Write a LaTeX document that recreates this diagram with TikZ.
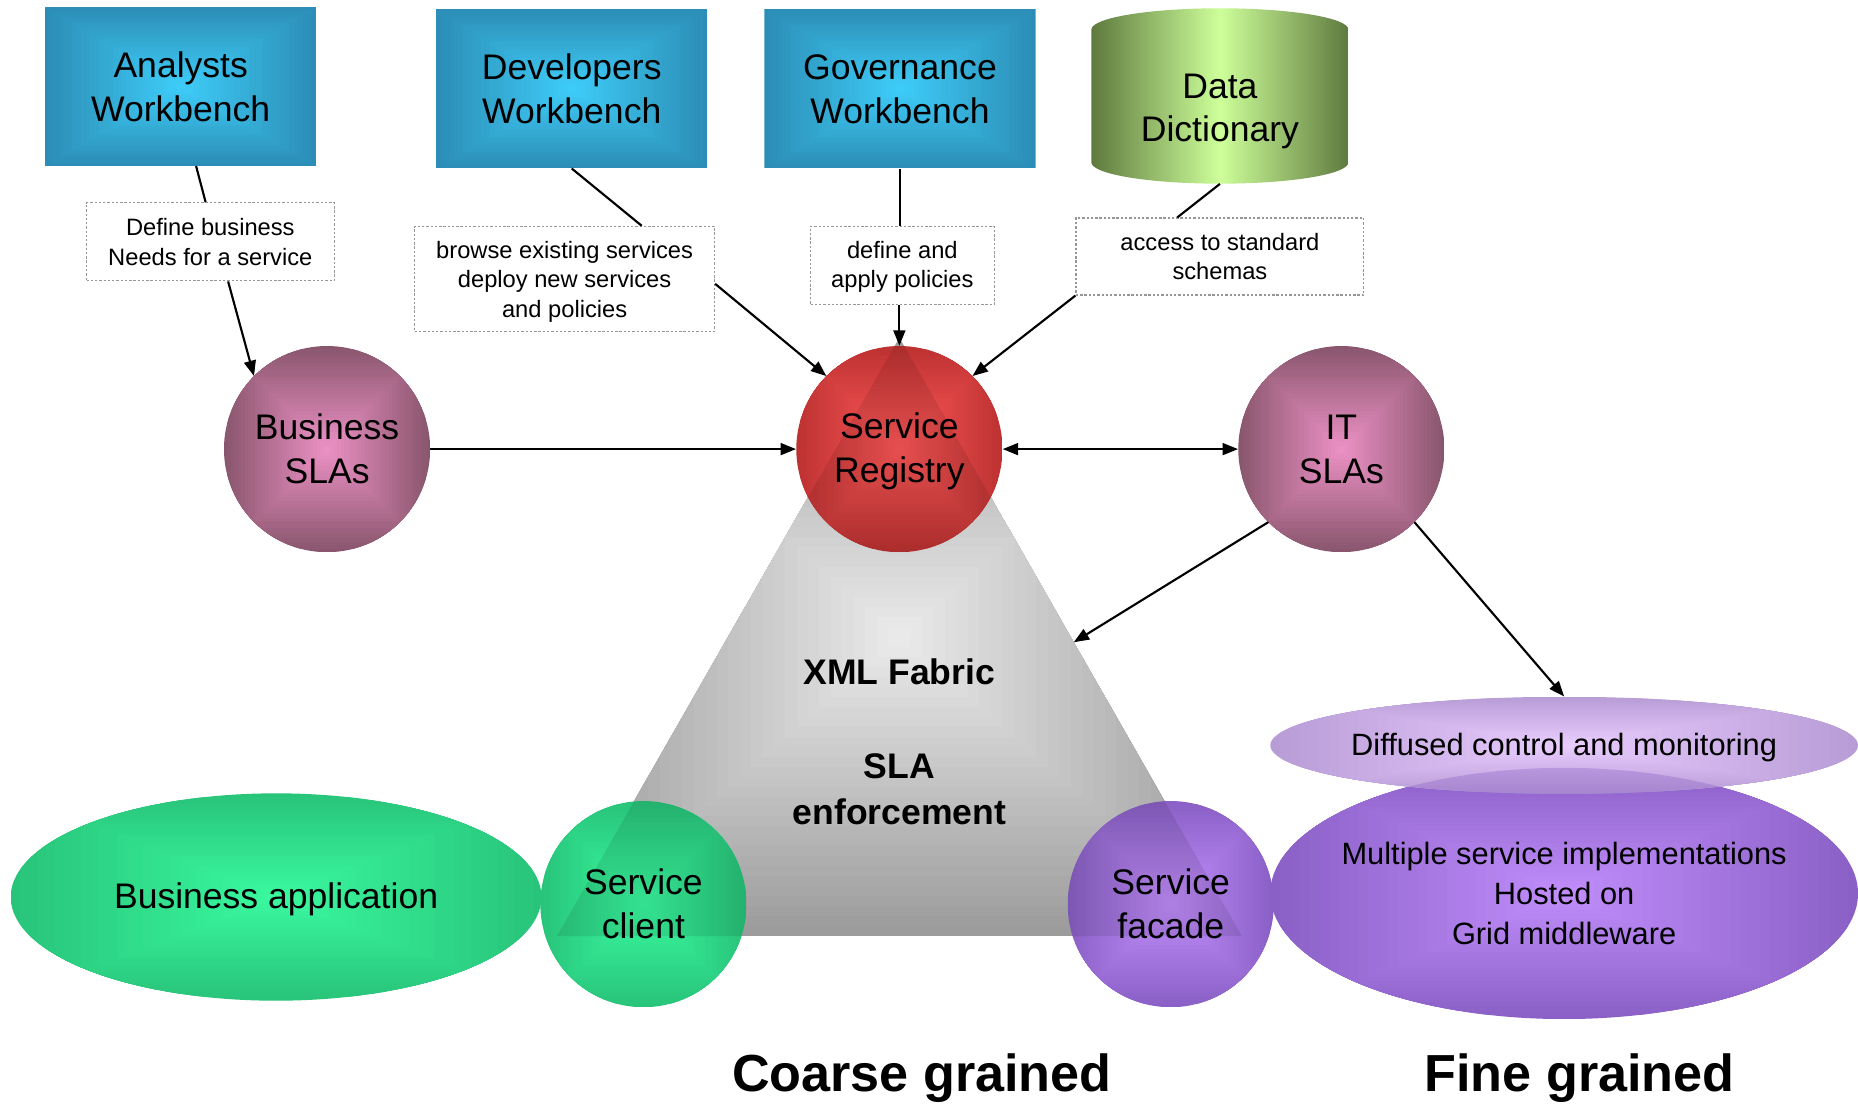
\documentclass[tikz,border=0pt]{standalone}
\usepackage{fontspec}
\setmainfont{Liberation Sans}
\usetikzlibrary{shapes.geometric,arrows.meta,calc}
\definecolor{wbout}{RGB}{44,142,182}
\definecolor{wbin}{RGB}{62,206,250}
\definecolor{slaout}{RGB}{138,86,110}
\definecolor{slain}{RGB}{238,146,198}
\definecolor{regout}{RGB}{190,50,50}
\definecolor{regin}{RGB}{255,88,88}
\definecolor{triout}{RGB}{156,156,156}
\definecolor{triin}{RGB}{236,236,236}
\definecolor{grout}{RGB}{40,196,122}
\definecolor{grin}{RGB}{58,250,160}
\definecolor{puout}{RGB}{138,96,198}
\definecolor{puin}{RGB}{194,142,252}
\definecolor{dfout}{RGB}{184,156,214}
\definecolor{dfin}{RGB}{234,206,255}
\definecolor{ddout}{RGB}{94,122,62}
\definecolor{ddin}{RGB}{206,255,154}
\definecolor{lblgray}{RGB}{150,150,150}
\newcommand{\lowerby}[2]{\raisebox{-#1}[\height][\depth]{#2}}
\tikzset{
  rg/.style n args={2}{path picture={
    \foreach \k in {0,...,29}{
      \pgfmathtruncatemacro\tt{\k*100/30}
      \fill[#2!\tt!#1] ($(path picture bounding box.south west)!\k/60!(path picture bounding box.north east)$) rectangle ($(path picture bounding box.north east)!\k/60!(path picture bounding box.south west)$);
    }}},
  wb/.style={rectangle, minimum width=229, minimum height=134, inner sep=0pt, align=center, font=\fontsize{30}{37}\selectfont, rg={wbout}{wbin}},
  circ/.style={circle, minimum size=174, inner sep=0pt, align=center, font=\fontsize{30}{37}\selectfont},
  ell/.style={ellipse, inner sep=0pt, align=center},
  lbl/.style={rectangle, draw=lblgray, line width=1pt, dash pattern=on 2pt off 1.6pt, fill=white, inner sep=0pt, align=center, font=\fontsize{20}{25}\selectfont},
  ln/.style={line width=1.8pt, black},
  arr/.style={line width=1.8pt, black, -{Triangle[length=13pt,width=10pt]}},
  dbl/.style={line width=1.8pt, black, {Triangle[length=13pt,width=10pt]}-{Triangle[length=13pt,width=10pt]}},
  bigtxt/.style={font=\fontsize{30}{39}\selectfont\bfseries, align=center},
  huge/.style={font=\fontsize{44}{50}\selectfont\bfseries}
}
\begin{document}
\begin{tikzpicture}[x=1pt,y=-1pt]
\useasboundingbox (0,0) rectangle (1568,932);
\fill[white] (0,0) rectangle (1568,932);

% triangle (XML fabric)
\coordinate (t1) at (759,285);
\coordinate (t2) at (1048,790);
\coordinate (t3) at (470,790);
\path[rg={triout}{triin}] (t1) -- (t2) -- (t3) -- cycle;
\coordinate (fabpt) at ($(t1)!0.509!(t2)$);
\node[bigtxt] (xml) at (759,567) {XML Fabric};
\node[bigtxt] (sla) at (759,666) {SLA\\enforcement};

% workbenches
\node[wb] (aw) at (152.5,73) {Analysts\\Workbench};
\node[wb] (dw) at (482.5,75) {Developers\\Workbench};
\node[wb] (gw) at (759.5,75) {Governance\\Workbench};

% data dictionary cylinder
\shade[left color=ddout, right color=ddout, middle color=ddin]
  (921,25) -- (921,137) arc[start angle=180, end angle=360, x radius=108.5pt, y radius=18pt]
  -- (1138,25) arc[start angle=0, end angle=180, x radius=108.5pt, y radius=18pt] -- cycle;
\node[rectangle, inner sep=0pt, minimum width=217, minimum height=122, align=center, font=\fontsize{30}{36}\selectfont] (dd) at (1029.5,94) {Data\\Dictionary};

% labels
\node[lbl, minimum width=209, minimum height=66] (l1) at (177.5,204) {Define business\\Needs for a service};
\node[lbl, minimum width=253, minimum height=89] (l2) at (476.5,235.5) {\lowerby{2.5pt}{\begin{tabular}{@{}c@{}}browse existing services\\deploy new services\\and policies\end{tabular}}};
\node[lbl, minimum width=155, minimum height=66] (l3) at (761.5,224) {\lowerby{1.5pt}{\begin{tabular}{@{}c@{}}define and\\apply policies\end{tabular}}};
\node[lbl, minimum width=243, minimum height=65] (l4) at (1029.5,216.5) {access to standard\\schemas};

% circles
\node[circ, rg={slaout}{slain}] (bs) at (276,379) {Business\\SLAs};
\node[circ, rg={regout}{regin}] (reg) at (759,379) {\lowerby{2.5pt}{\begin{tabular}{@{}c@{}}Service\\Registry\end{tabular}}};
\node[circ, rg={slaout}{slain}] (it) at (1132,379) {IT\\SLAs};

% bottom row
\node[ell, minimum width=448, minimum height=175, rg={grout}{grin}, font=\fontsize{30}{37}\selectfont] (ba) at (233,757) {\lowerby{2pt}{Business application}};
\node[circ, rg={grout}{grin}] (sc) at (543,763) {Service\\client};
\node[circ, rg={puout}{puin}] (sf) at (988,763) {Service\\facade};
\node[ell, minimum width=496, minimum height=212, rg={puout}{puin}, font=\fontsize{26}{33.5}\selectfont] (ms) at (1320,754) {\makebox[0pt]{\lowerby{2.5pt}{\begin{tabular}{@{}c@{}}Multiple service implementations\\Hosted on\\Grid middleware\end{tabular}}}};
\node[ell, minimum width=496, minimum height=82, rg={dfout}{dfin}, font=\fontsize{26}{32}\selectfont] (df) at (1320,629) {\makebox[0pt]{\lowerby{2pt}{Diffused control and monitoring}}};

% translucent overlaps
\foreach \c in {reg,sc,sf}{
  \begin{scope}
    \clip (\c.center) circle[radius=87pt];
    \fill[black, fill opacity=0.09] (t1) -- (t2) -- (t3) -- cycle;
  \end{scope}
}
\begin{scope}
  \clip (df.center) ellipse[x radius=248pt, y radius=41pt];
  \fill[puout, fill opacity=0.35] (ms.center) ellipse[x radius=248pt, y radius=106pt];
\end{scope}

% connectors
\draw[ln] ([xshift=13]aw.south) -- ([xshift=-4]l1.north);
\draw[arr] ([xshift=15]l1.south) -- (bs.135);
\draw[ln] (dw.south) -- ([xshift=65]l2.north);
\draw[arr] ([yshift=-4]l2.east) -- (reg.135);
\draw[ln] (gw.south) -- (gw.south |- l3.north);
\draw[arr] (reg.north |- l3.south) -- (reg.north);
\draw[ln] (dd.south) -- ([xshift=-36]l4.north);
\draw[arr] (l4.south west) -- (reg.45);
\draw[arr] (bs) -- (reg);
\draw[dbl] (reg) -- (it);
\draw[arr] (it.225) -- (fabpt);
\draw[arr] (it.-45) -- (df.north);

% captions
\node[huge] (coarse) at (778,910) {Coarse grained};
\node[huge] (fine) at (1333,910) {Fine grained};
\end{tikzpicture}
\end{document}
